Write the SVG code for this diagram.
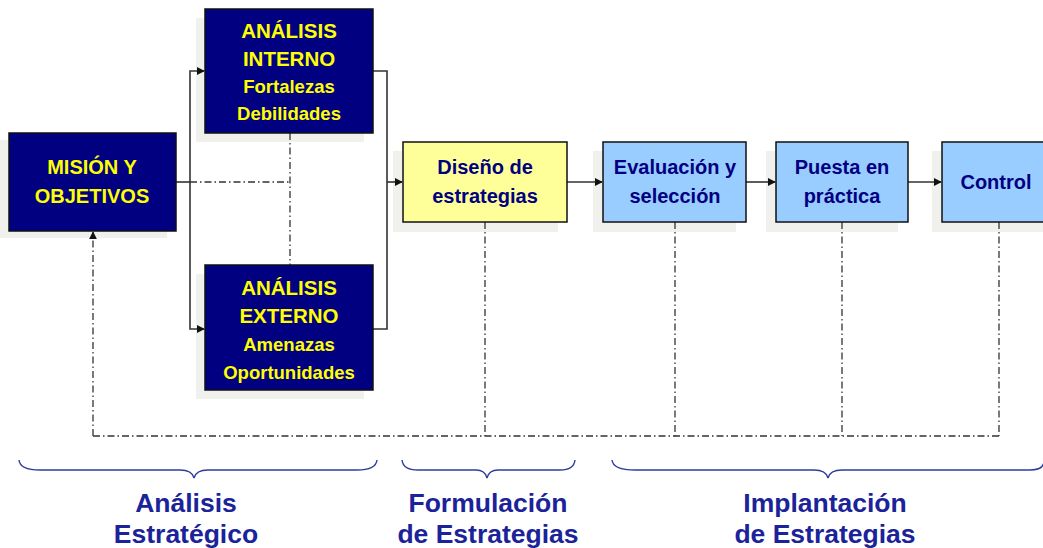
<svg xmlns="http://www.w3.org/2000/svg" width="1043" height="548" viewBox="0 0 1043 548">
<style>
.sh{fill:#f0f0ec}
.dk{fill:#000080;stroke:#111;stroke-width:1.5}
.yl{fill:#ffff99;stroke:#111;stroke-width:1.5}
.bl{fill:#99ccff;stroke:#111;stroke-width:1.5}
.tw{font-family:"Liberation Sans",Arial,sans-serif;font-weight:bold;fill:#ffff00;text-anchor:middle}
.tb{font-family:"Liberation Sans",Arial,sans-serif;font-weight:bold;fill:#000080;text-anchor:middle;font-size:20px}
.lab{font-family:"Liberation Sans",Arial,sans-serif;font-weight:bold;fill:#1b239a;text-anchor:middle;font-size:26.5px}
.con{fill:none;stroke:#333;stroke-width:1.6}
.dd{fill:none;stroke:#333;stroke-width:1.3;stroke-dasharray:7,3,1.5,3}
.br{fill:none;stroke:#2c3e9c;stroke-width:1.4}
</style>
<defs>
<marker id="ah" viewBox="0 0 10 10" refX="9" refY="5" markerWidth="8" markerHeight="8" markerUnits="userSpaceOnUse" orient="auto">
<path d="M0,0 L10,5 L0,10 z" fill="#111"/>
</marker>
</defs>
<g id="shadows">
<rect class="sh" x="0" y="140" width="167" height="98"/>
<rect class="sh" x="196" y="18" width="168" height="124"/>
<rect class="sh" x="196" y="274" width="168" height="125"/>
<rect class="sh" x="393" y="151" width="165" height="81"/>
<rect class="sh" x="593" y="151" width="143" height="81"/>
<rect class="sh" x="766" y="151" width="132" height="81"/>
<rect class="sh" x="932" y="151" width="120" height="81"/>
</g>
<g id="connectors">
<path class="con" d="M176,182 H190"/>
<path class="con" d="M190,182 V71 H204" marker-end="url(#ah)"/>
<path class="con" d="M190,182 V329 H204" marker-end="url(#ah)"/>
<path class="con" d="M373,71 H387 V329 H373"/>
<path class="con" d="M387,182 H402" marker-end="url(#ah)"/>
<path class="con" d="M567,182 H602" marker-end="url(#ah)"/>
<path class="con" d="M746,182 H775" marker-end="url(#ah)"/>
<path class="con" d="M908,182 H941" marker-end="url(#ah)"/>
<path class="dd" d="M190,182 H290"/>
<path class="dd" d="M290,133 V265"/>
<path class="dd" d="M485,222 V436"/>
<path class="dd" d="M675,222 V436"/>
<path class="dd" d="M842,222 V436"/>
<path class="dd" d="M999,222 V436"/>
<path class="dd" d="M999,436 H93"/>
<path class="dd" d="M93,436 V232" marker-end="url(#ah)"/>
</g>
<g id="mision">
<rect class="dk" x="9" y="133" width="167" height="98"/>
<text class="tw" x="92" y="174" font-size="20">MISIÓN Y</text>
<text class="tw" x="92" y="203" font-size="20">OBJETIVOS</text>
</g>
<g id="interno">
<rect class="dk" x="205" y="9" width="168" height="124"/>
<text class="tw" x="289" y="38" font-size="20.5">ANÁLISIS</text>
<text class="tw" x="289" y="66" font-size="20.5">INTERNO</text>
<text class="tw" x="289" y="92.5" font-size="18.5">Fortalezas</text>
<text class="tw" x="289" y="119.5" font-size="18.5">Debilidades</text>
</g>
<g id="externo">
<rect class="dk" x="205" y="265" width="168" height="125"/>
<text class="tw" x="289" y="295" font-size="20.5">ANÁLISIS</text>
<text class="tw" x="289" y="323" font-size="20.5">EXTERNO</text>
<text class="tw" x="289" y="350.5" font-size="18.5">Amenazas</text>
<text class="tw" x="289" y="378.5" font-size="18.5">Oportunidades</text>
</g>
<g id="diseno">
<rect class="yl" x="403" y="142" width="164" height="80"/>
<text class="tb" x="485" y="174">Diseño de</text>
<text class="tb" x="485" y="203">estrategias</text>
</g>
<g id="evaluacion">
<rect class="bl" x="603" y="142" width="143" height="80"/>
<text class="tb" x="675" y="174">Evaluación y</text>
<text class="tb" x="675" y="203">selección</text>
</g>
<g id="puesta">
<rect class="bl" x="776" y="142" width="132" height="80"/>
<text class="tb" x="842" y="174">Puesta en</text>
<text class="tb" x="842" y="203">práctica</text>
</g>
<g id="control">
<rect class="bl" x="942" y="142" width="110" height="80"/>
<text class="tb" x="996" y="189">Control</text>
</g>
<g id="braces">
<path class="br" d="M19,460 Q20,470 40,470 H180 Q192,470 194,478 Q196,470 208,470 H357 Q376,470 377,460"/>
<path class="br" d="M402,460 Q403,470 418,470 H476 Q485,470 487,478 Q489,470 498,470 H560 Q574,470 575,460"/>
<path class="br" d="M612,460 Q613,470 635,470 H814 Q826,470 828,478 Q830,470 842,470 H1030 Q1043,470 1044,462"/>
</g>
<g id="labels">
<text class="lab" x="186" y="512">Análisis</text>
<text class="lab" x="186" y="543">Estratégico</text>
<text class="lab" x="488" y="512">Formulación</text>
<text class="lab" x="488" y="543">de Estrategias</text>
<text class="lab" x="825" y="512">Implantación</text>
<text class="lab" x="825" y="543">de Estrategias</text>
</g>
</svg>
